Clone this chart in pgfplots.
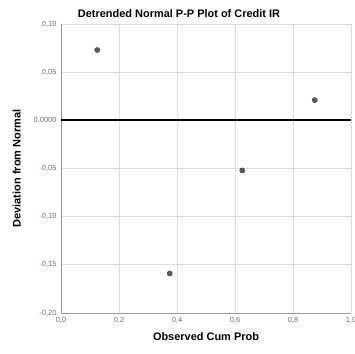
\documentclass[border=0pt]{standalone}
\usepackage{pgfplots}
\pgfplotsset{compat=1.18}
\usepackage{fontspec}
\setmainfont{Liberation Sans}
\definecolor{tickgray}{HTML}{6E6E6E}
\definecolor{gridgray}{HTML}{DCDCDC}
\definecolor{markgray}{HTML}{5A5A5A}
\begin{document}
\begin{tikzpicture}
\begin{axis}[
  name=ax,
  scale only axis,
  width=290bp, height=289bp,
  xmin=0, xmax=1, ymin=-0.20, ymax=0.10,
  xtick={0,0.2,0.4,0.6,0.8,1.0},
  ytick={-0.20,-0.15,-0.10,-0.05,0,0.05,0.10},
  yticklabels={{-0,20},{-0,15},{-0,10},{-0,05},{0,0000},{0,05},{0,10}},
  xticklabels={{0,0},{0,2},{0,4},{0,6},{0,8},{1,0}},
  grid=major,
  major grid style={gridgray, line width=0.8pt},
  axis lines=left,
  axis line style={-, color=gray!80, line width=0.8pt},
  major tick length=0pt,
  tick label style={font=\fontsize{7.5}{8}\selectfont, text=tickgray},
  yticklabel style={xshift=-1bp},
  xticklabel style={yshift=-1bp},
  xlabel={\bfseries Observed Cum Prob},
  ylabel={\bfseries Deviation from Normal},
  label style={font=\fontsize{11}{12}\selectfont},
  xlabel style={yshift=-2bp},
  ylabel style={yshift=6bp},
  title={\bfseries Detrended Normal P-P Plot of Credit IR},
  title style={font=\fontsize{11}{12}\selectfont, yshift=-3bp, xshift=-27bp},
  clip=false,
]
\addplot[black, line width=2pt, forget plot] coordinates {(0,0) (1,0)};
\addplot[only marks, mark=*, mark size=2.6bp, mark options={fill=markgray, draw=markgray!70!black, line width=0.4pt}]
coordinates {
(0.125, 0.073)
(0.375, -0.159)
(0.625, -0.052)
(0.875, 0.021)
};
\end{axis}
\pgfresetboundingbox
\path ([shift={(-61bp,-41bp)}]ax.south west) rectangle ([shift={(4bp,24bp)}]ax.north east);
\end{tikzpicture}
\end{document}
